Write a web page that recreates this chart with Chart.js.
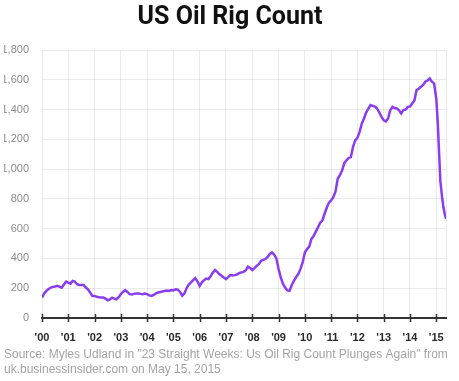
<!DOCTYPE html>
<html>
<head>
<meta charset="utf-8">
<script src="https://cdn.jsdelivr.net/npm/chart.js@4.4.1/dist/chart.umd.min.js"></script>
<style>
  html, body { margin: 0; padding: 0; background: #ffffff; }
  #wrap { width: 459px; height: 381px; }
</style>
</head>
<body>
<div id="wrap"><canvas id="c" width="459" height="381"></canvas></div>
<script>
// ---- Data ----
const chartTitle = "US Oil Rig Count";
const sourceLines = [
  'Source: Myles Udland in "23 Straight Weeks: Us Oil Rig Count Plunges Again" from',
  'uk.businessinsider.com on May 15, 2015'
];
// monthly US oil rig counts, Jan..Dec for each year
const years = [2000, 2001, 2002, 2003, 2004, 2005, 2006, 2007, 2008, 2009, 2010, 2011, 2012, 2013, 2014];
const rigs2000 = [137, 165, 182, 195, 204, 209, 212, 216, 210, 204, 225, 245];
const rigs2001 = [238, 231, 249, 245, 227, 222, 222, 222, 205, 193, 170, 148];
const rigs2002 = [148, 142, 140, 137, 137, 130, 119, 125, 137, 130, 126, 140];
const rigs2003 = [160, 175, 187, 175, 160, 158, 162, 164, 165, 162, 160, 164];
const rigs2004 = [160, 152, 148, 155, 165, 171, 175, 178, 182, 185, 182, 188];
const rigs2005 = [185, 193, 190, 175, 150, 165, 200, 225, 240, 255, 268, 245];
const rigs2006 = [216, 240, 254, 265, 261, 280, 305, 322, 310, 294, 283, 272];
const rigs2007 = [261, 275, 288, 285, 288, 292, 301, 306, 310, 320, 344, 335];
const rigs2008 = [322, 335, 350, 362, 384, 390, 396, 410, 430, 440, 425, 400];
const rigs2009 = [330, 272, 230, 204, 185, 182, 220, 249, 275, 295, 330, 373];
const rigs2010 = [440, 463, 480, 531, 550, 580, 609, 640, 654, 700, 740, 775];
const rigs2011 = [789, 811, 850, 935, 960, 990, 1040, 1059, 1075, 1081, 1150, 1193];
const rigs2012 = [1210, 1250, 1306, 1340, 1380, 1407, 1430, 1425, 1420, 1407, 1380, 1351];
const rigs2013 = [1328, 1320, 1340, 1396, 1418, 1410, 1407, 1395, 1373, 1396, 1400, 1418];
const rigs2014 = [1420, 1441, 1460, 1531, 1540, 1553, 1565, 1587, 1595, 1609, 1587, 1576];
const monthlyRigs = [rigs2000, rigs2001, rigs2002, rigs2003, rigs2004, rigs2005, rigs2006, rigs2007,
                     rigs2008, rigs2009, rigs2010, rigs2011, rigs2012, rigs2013, rigs2014];
// 2015 readings (dated)
const dates2015 = ["2015-01-02", "2015-01-23", "2015-02-06", "2015-02-27", "2015-03-20", "2015-04-10", "2015-05-01", "2015-05-15"];
const rigs2015 = [1470, 1300, 1150, 920, 815, 740, 690, 665];
// axis ticks
const xTickYears = [2000, 2001, 2002, 2003, 2004, 2005, 2006, 2007, 2008, 2009, 2010, 2011, 2012, 2013, 2014, 2015];
const xStart = 2000, xEnd = 2015.37;
const yMin = 0, yMax = 1800, yStep = 200;

// ---- build points ----
function dateToYear(s) {
  const [y, m, d] = s.split('-').map(Number);
  return y + (m - 1) / 12 + (d - 1) / 365;
}
const points = [];
years.forEach((yr, i) => {
  monthlyRigs[i].forEach((v, m) => points.push({ x: yr + m / 12, y: v }));
});
dates2015.forEach((d, i) => points.push({ x: dateToYear(d), y: rigs2015[i] }));

// crossing tick marks on the x axis
const crossTicks = {
  id: 'crossTicks',
  afterDraw(chart) {
    const xs = chart.scales.x;
    const ctx = chart.ctx;
    const yb = chart.chartArea.bottom;
    ctx.save();
    ctx.strokeStyle = '#333333';
    ctx.lineWidth = 1.5;
    xTickYears.forEach(v => {
      const px = Math.round(xs.getPixelForValue(v)) + 0.5;
      ctx.beginPath();
      ctx.moveTo(px, yb - 4);
      ctx.lineTo(px, yb + 4);
      ctx.stroke();
    });
    ctx.restore();
  }
};

new Chart(document.getElementById('c'), {
  type: 'line',
  data: {
    datasets: [{
      data: points,
      borderColor: '#8a3cf0',
      borderWidth: 2.5,
      pointRadius: 0,
      tension: 0,
      fill: false
    }]
  },
  options: {
    responsive: false,
    animation: false,
    events: [],
    layout: { padding: { left: 4, right: 3, top: 0, bottom: 0 } },
    plugins: {
      legend: { display: false },
      tooltip: { enabled: false },
      title: {
        display: true,
        text: chartTitle,
        color: '#111111',
        font: { family: 'Roboto, "Liberation Sans", sans-serif', size: 25, weight: 'bold', lineHeight: 1.2 },
        padding: { top: 3, bottom: 17 }
      },
      subtitle: {
        display: true,
        position: 'bottom',
        align: 'start',
        text: sourceLines,
        color: '#a3a3a3',
        font: { family: '"Liberation Sans", sans-serif', size: 12, lineHeight: 1.25 },
        padding: { top: 0, bottom: 4 }
      }
    },
    scales: {
      x: {
        type: 'linear',
        min: xStart,
        max: xEnd,
        afterFit(s) { s.height = 29; },
        afterBuildTicks(s) {
          s.ticks = xTickYears.map(v => ({ value: v })).concat([{ value: xEnd }]);
        },
        ticks: {
          autoSkip: false,
          maxRotation: 0,
          padding: 13,
          color: '#2a2a2a',
          font: { family: '"Liberation Sans", sans-serif', size: 11, weight: 'bold' },
          callback: (v) => xTickYears.includes(v) ? "'" + String(v % 100).padStart(2, '0') : ''
        },
        grid: { color: 'rgba(0,0,0,0.08)', lineWidth: 1, drawTicks: false },
        border: { display: true, color: '#333333', width: 2 }
      },
      y: {
        min: yMin,
        max: yMax,
        afterFit(s) { s.width = 38; },
        ticks: {
          stepSize: yStep,
          padding: 13,
          color: '#8c8c8c',
          font: { family: '"Liberation Sans", sans-serif', size: 11 },
          callback: (v) => v.toLocaleString('en-US')
        },
        grid: { color: 'rgba(0,0,0,0.08)', lineWidth: 1, drawTicks: false },
        border: { display: false }
      }
    }
  },
  plugins: [crossTicks]
});
</script>
</body>
</html>
